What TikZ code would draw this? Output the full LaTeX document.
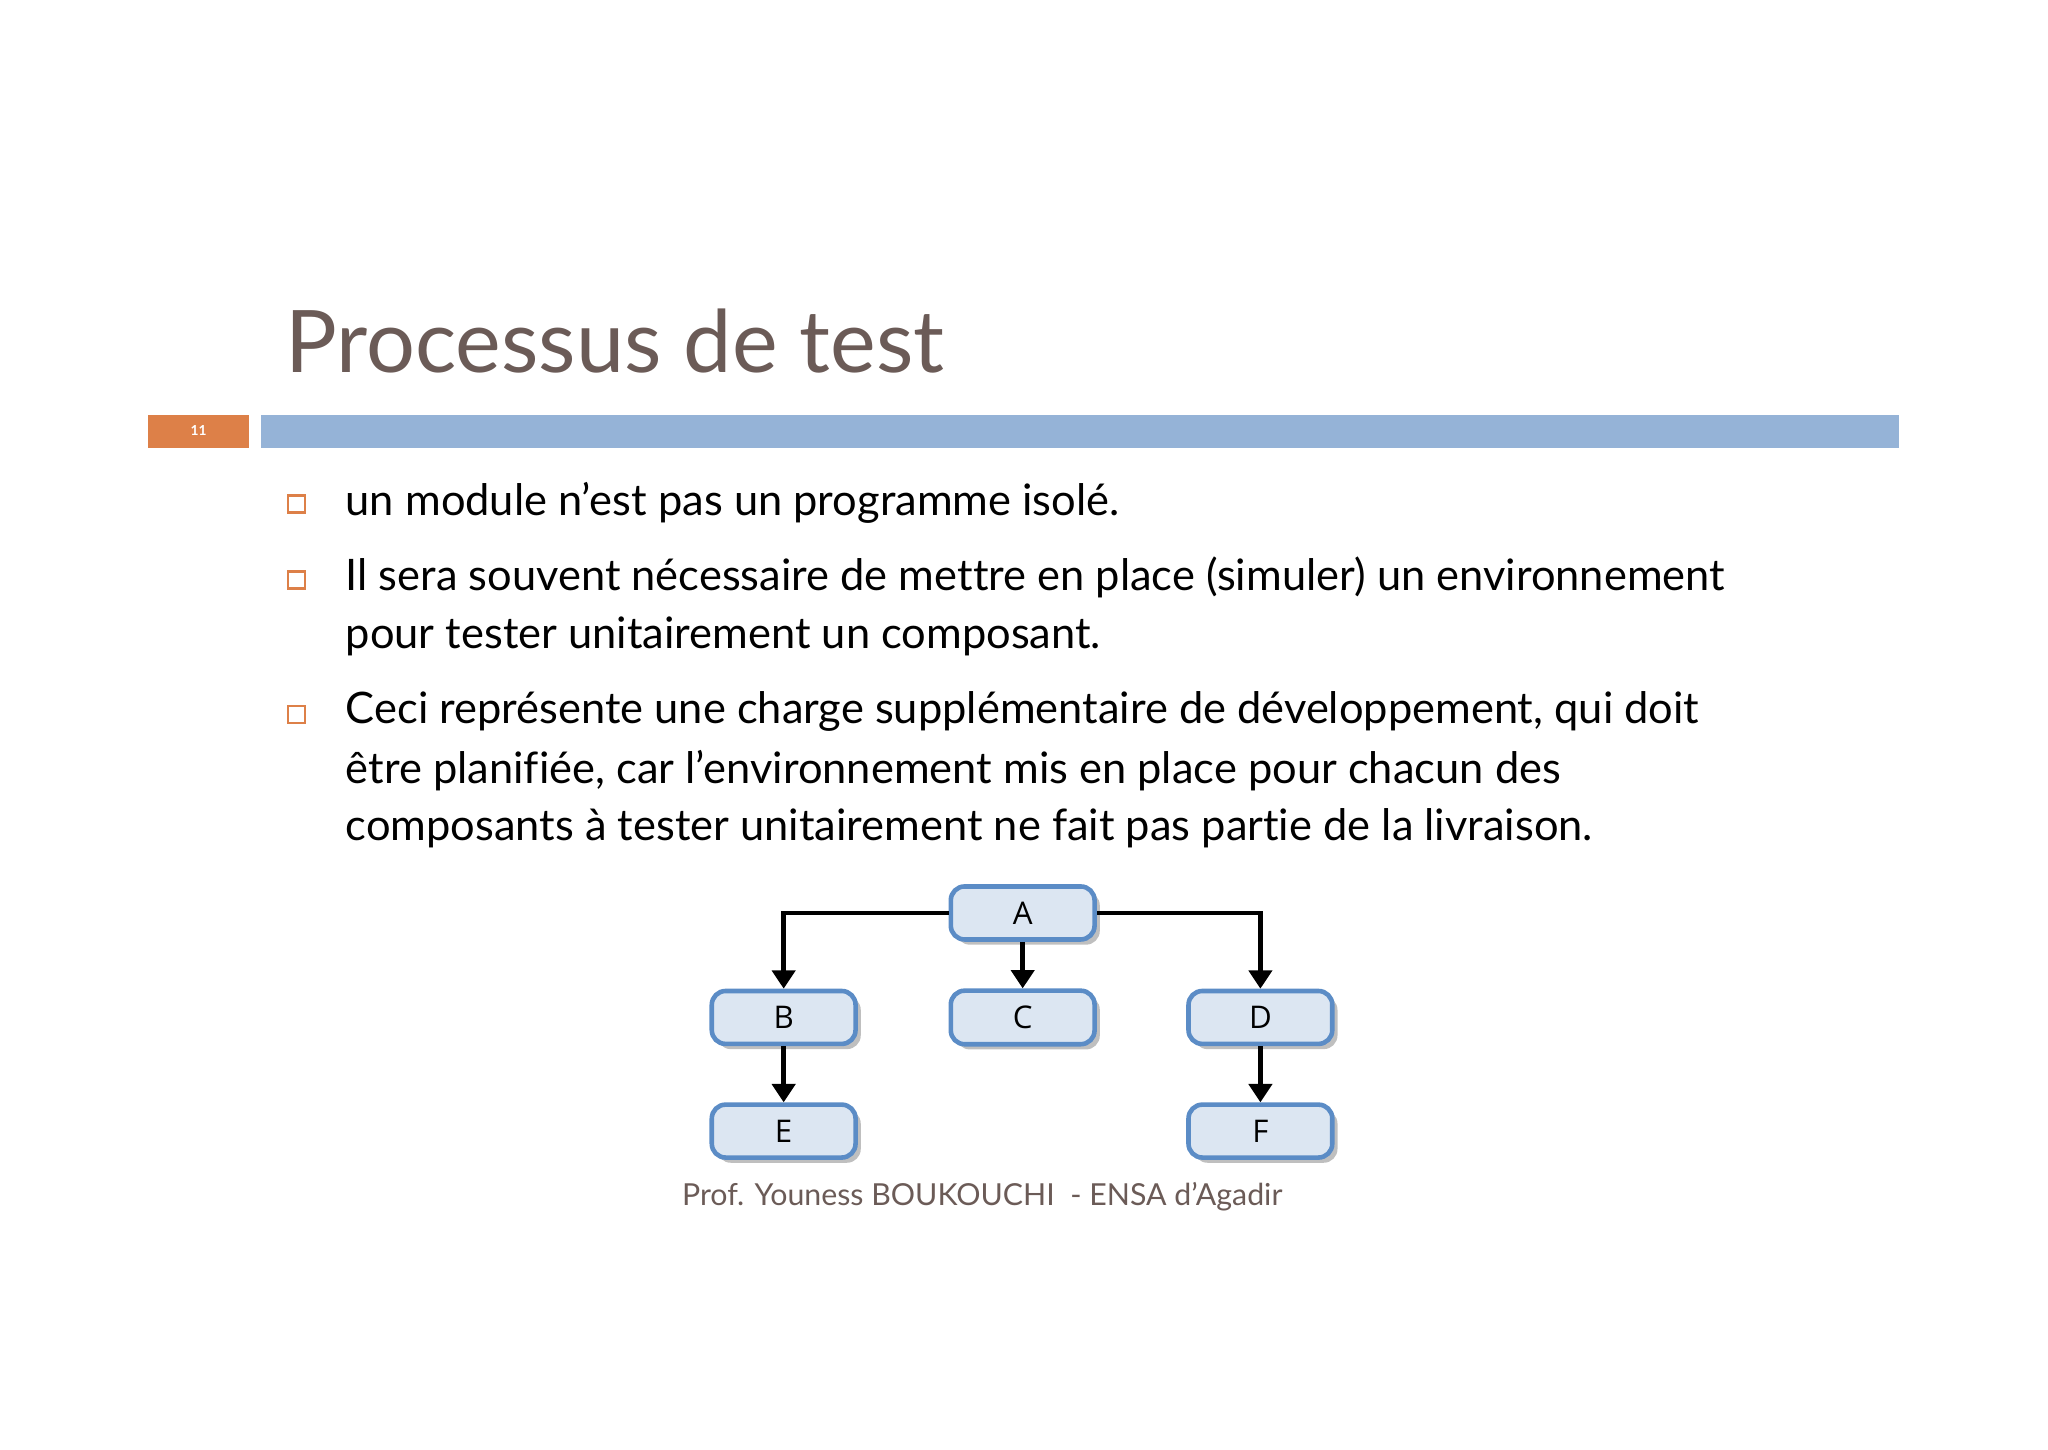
\documentclass[tikz,border=0pt]{standalone}
\usepackage{fontspec}
\setmainfont[Ligatures=NoCommon]{Lato}
\newfontfamily\boxfont{Open Sans}
\usetikzlibrary{arrows.meta,shadows}
\definecolor{titlec}{HTML}{6B5B57}
\definecolor{barblue}{HTML}{95B3D7}
\definecolor{barorange}{HTML}{DD8048}
\definecolor{boxfill}{HTML}{DCE6F2}
\definecolor{boxdraw}{HTML}{5B8CC6}
\newcommand{\apo}{\char"27\relax}
\tikzset{
 mod/.style={draw=boxdraw,line width=1pt,fill=boxfill,rounded corners=3pt,minimum width=1.1cm,minimum height=0.4cm,font=\boxfont\fontsize{6.8}{8}\selectfont,drop shadow={shadow xshift=0.04cm,shadow yshift=-0.04cm,opacity=0.5}},
 conn/.style={line width=1pt,-{Triangle[length=4pt,width=5pt]}},
 bul/.style={draw=barorange,line width=0.6pt,minimum size=0.13cm,inner sep=0pt},
 txt/.style={anchor=west,inner sep=0pt,font=\fontsize{9.45}{11}\selectfont,text=black}
}
\begin{document}
\begin{tikzpicture}[x=0.01cm,y=-0.01cm]
\useasboundingbox (0,0) rectangle (1568,1110);
\node[anchor=base west,inner sep=0pt,text=titlec,font=\fontsize{18.8}{22}\selectfont] (title) at (218,285) {Processus de test};
\fill[barorange] (113,318) rectangle (191,343);
\node[text=white,font=\fontsize{3}{4}\selectfont\bfseries] (num) at (152,330) {11};
\fill[barblue] (200,318) rectangle (1454,343);
\node[bul] (b1) at (227,386) {};
\node[bul] (b2) at (227,444) {};
\node[bul] (b3) at (227,547) {};
\node[txt] (l1) at (264,385) {un module n\apo est pas un programme isolé.};
\node[txt] (l2) at (264,442) {Il sera souvent nécessaire de mettre en place (simuler) un environnement};
\node[txt] (l3) at (264,487) {pour tester unitairement un composant.};
\node[txt] (l4) at (264,545) {Ceci représente une charge supplémentaire de développement, qui doit};
\node[txt] (l5) at (264,590) {être planifiée, car l\apo environnement mis en place pour chacun des};
\node[txt] (l6) at (264,634) {composants à tester unitairement ne fait pas partie de la livraison.};
\node[mod] (A) at (783,699) {A};
\node[mod] (B) at (600,779) {B};
\node[mod] (C) at (783,779) {C};
\node[mod] (D) at (965,779) {D};
\node[mod] (E) at (600,866) {E};
\node[mod] (F) at (965,866) {F};
\draw[conn] (A.west) -| (B.north);
\draw[conn] (A.east) -| (D.north);
\draw[conn] (A) -- (C);
\draw[conn] (B) -- (E);
\draw[conn] (D) -- (F);
\node[text=titlec,font=\fontsize{6.6}{8}\selectfont] (foot) at (752,916) {Prof. Youness BOUKOUCHI\ \ - ENSA d\apo Agadir};
\end{tikzpicture}
\end{document}
